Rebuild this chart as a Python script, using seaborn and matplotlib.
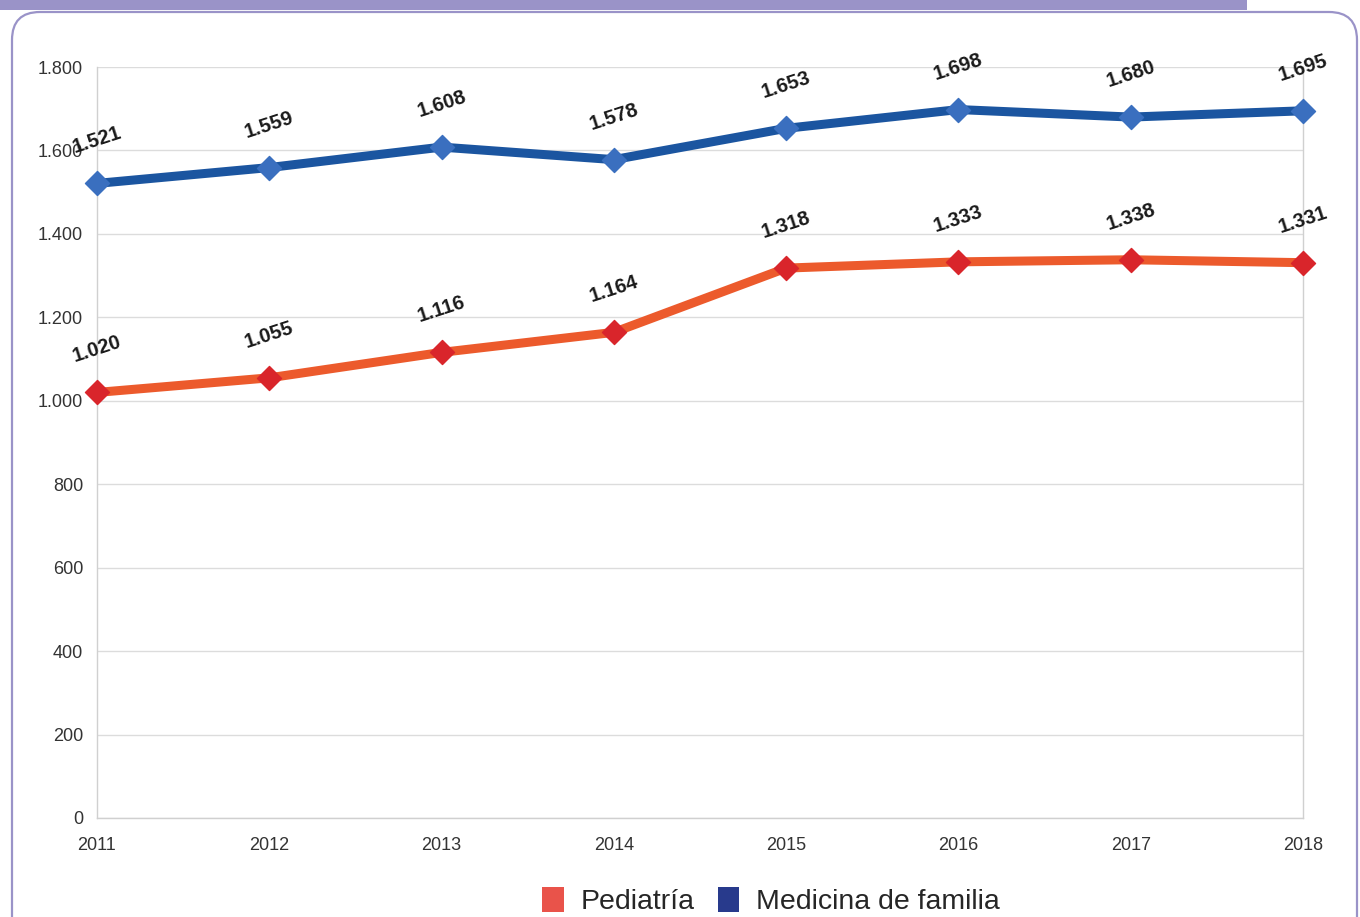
import matplotlib
matplotlib.use("Agg")
import matplotlib.pyplot as plt
from matplotlib.patches import FancyBboxPatch, Rectangle, Patch
from matplotlib.transforms import IdentityTransform
import pandas as pd
import seaborn as sns

# datos
years = [2011, 2012, 2013, 2014, 2015, 2016, 2017, 2018]
pediatria = [1020, 1055, 1116, 1164, 1318, 1333, 1338, 1331]
medicina_familia = [1521, 1559, 1608, 1578, 1653, 1698, 1680, 1695]
series_names = ["Pediatría", "Medicina de familia"]
y_ticks = [0, 200, 400, 600, 800, 1000, 1200, 1400, 1600, 1800]

line_colors = {"Pediatría": "#ec5a2c", "Medicina de familia": "#1b55a0"}
marker_colors = {"Pediatría": "#d9252b", "Medicina de familia": "#3a6fbf"}
legend_colors = {"Pediatría": "#e9534a", "Medicina de familia": "#283a8c"}
purple = "#9a93c8"


def fmt(v):
    # separador de miles con punto
    return f"{v:,}".replace(",", ".")


df = pd.DataFrame({
    "year": years * 2,
    "value": pediatria + medicina_familia,
    "serie": [series_names[0]] * len(years) + [series_names[1]] * len(years),
})

sns.set_style("white")
plt.rcParams["font.family"] = ["Liberation Sans", "DejaVu Sans"]

fig = plt.figure(figsize=(13.6, 9.17), dpi=100)
ax = fig.add_axes([97 / 1360, 1 - 818 / 917, (1303 - 97) / 1360, (818 - 67) / 917])

sns.lineplot(data=df, x="year", y="value", hue="serie", palette=line_colors,
             linewidth=6.5, ax=ax, legend=False, zorder=3)

# marcadores en forma de rombo
for name in series_names:
    sub = df[df["serie"] == name]
    ax.scatter(sub["year"], sub["value"], marker="D", s=150,
               color=marker_colors[name], edgecolor=marker_colors[name],
               linewidth=1, zorder=4, clip_on=False)
    for x, v in zip(sub["year"], sub["value"]):
        ax.annotate(fmt(v), (x, v), xytext=(0, 31), textcoords="offset points",
                    ha="center", va="center", rotation=18, fontsize=14.5,
                    fontweight="bold", color="#1a1a1a", zorder=5)

ax.set_xlim(years[0], years[-1])
ax.set_ylim(0, 1800)
ax.set_xticks(years)
ax.set_xticklabels([str(y) for y in years])
ax.set_yticks(y_ticks)
ax.set_yticklabels([fmt(t) for t in y_ticks])
ax.set_xlabel("")
ax.set_ylabel("")
ax.grid(axis="y", color="#dcdcdc", linewidth=1)
ax.grid(axis="x", visible=False)
ax.tick_params(axis="both", labelsize=13, colors="#333333", length=5,
               width=0.8, direction="out")
ax.tick_params(axis="both", color="#cccccc")
ax.tick_params(axis="x", pad=9)
ax.tick_params(axis="y", pad=5)
for side in ["left", "right", "bottom"]:
    ax.spines[side].set_color("#d0d0d0")
    ax.spines[side].set_linewidth(1)
ax.spines["top"].set_visible(False)

# leyenda
handles = [Patch(facecolor=legend_colors[n], edgecolor="none") for n in series_names]
fig.legend(handles, series_names, loc="center", bbox_to_anchor=(771 / 1360, 1 - 901 / 917),
           ncol=2, frameon=False, fontsize=20.5, handlelength=0.75, handleheight=1.0,
           handletextpad=0.6, columnspacing=0.8)

# marco morado redondeado y barra superior
frame = FancyBboxPatch((12, -40), 1345, 905 + 40, boxstyle="round,pad=0,rounding_size=28",
                       transform=IdentityTransform(), facecolor="none",
                       edgecolor=purple, linewidth=1.6, zorder=0)
fig.add_artist(frame)
bar = Rectangle((0, 907), 1247, 12, transform=IdentityTransform(),
                facecolor=purple, edgecolor="none", zorder=0)
fig.add_artist(bar)

fig.savefig("out.png", dpi=100)
